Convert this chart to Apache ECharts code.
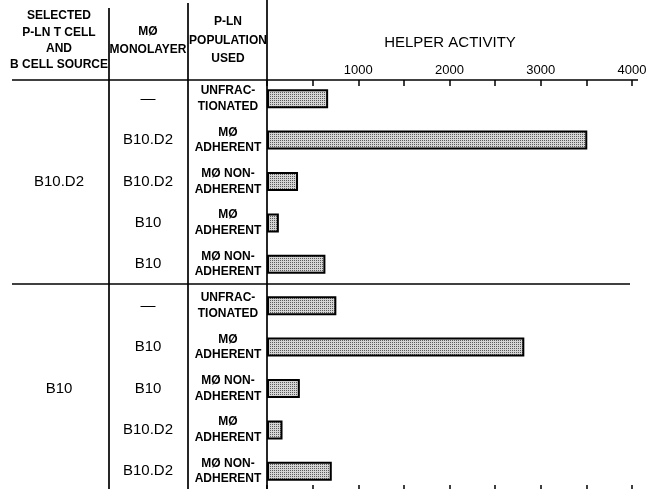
<!DOCTYPE html>
<html>
<head>
<meta charset="utf-8">
<script src="https://cdn.jsdelivr.net/npm/echarts@6/dist/echarts.min.js"></script>
<style>
html,body{margin:0;padding:0;background:#fff;}
#chart{width:646px;height:489px;}
</style>
</head>
<body>
<div id="chart"></div>
<script>
// ---- data ----
const cellSource = ['', '', 'B10.D2', '', '', '', '', 'B10', '', ''];
const monolayer = ['—', 'B10.D2', 'B10.D2', 'B10', 'B10', '—', 'B10', 'B10', 'B10.D2', 'B10.D2'];
const population = [
  'UNFRAC-\nTIONATED', 'MØ\nADHERENT', 'MØ NON-\nADHERENT', 'MØ\nADHERENT', 'MØ NON-\nADHERENT',
  'UNFRAC-\nTIONATED', 'MØ\nADHERENT', 'MØ NON-\nADHERENT', 'MØ\nADHERENT', 'MØ NON-\nADHERENT'
];
const helperActivity = [670, 3510, 340, 130, 640, 760, 2820, 360, 170, 710];
const xTicks = [1000, 2000, 3000, 4000];

const SANS = "'Liberation Sans',Arial,sans-serif";

// stipple pattern for bars
const pc = document.createElement('canvas');
pc.width = 2; pc.height = 2;
const pctx = pc.getContext('2d');
pctx.fillStyle = '#d4d4d4'; pctx.fillRect(0, 0, 2, 2);
pctx.fillStyle = '#5a5a5a'; pctx.fillRect(0, 0, 1, 1);

const chart = echarts.init(document.getElementById('chart'), null, {renderer: 'canvas'});
const idxs = population.map((_, i) => String(i));

function catAxis(labels, margin, size, weight, lh) {
  return {
    type: 'category', inverse: true, position: 'left', data: idxs,
    axisLine: {show: false}, axisTick: {show: false}, splitLine: {show: false},
    axisLabel: {
      show: true, interval: 0, margin: margin, align: 'center', verticalAlign: 'middle',
      fontFamily: SANS, fontSize: size, fontWeight: weight, lineHeight: lh, color: '#000',
      formatter: (v, i) => labels[i]
    }
  };
}

const line = (x1, y1, x2, y2) => ({
  type: 'line', shape: {x1, y1, x2, y2}, style: {stroke: '#000', lineWidth: 1.7}, z: 10
});
const hdr = (x, y, text, lh) => ({
  type: 'text', x, y, z: 10,
  style: {text, fill: '#000', font: "bold 12px " + SANS, textAlign: 'center', textVerticalAlign: 'middle', lineHeight: lh}
});

chart.setOption({
  backgroundColor: '#fff',
  animation: false,
  grid: {left: 267, width: 365, top: 78, height: 414, outerBoundsMode: 'none', containLabel: false},
  xAxis: [{
    type: 'value', position: 'top', min: 0, max: 4000, interval: 500, offset: -2,
    axisLine: {show: false}, splitLine: {show: false},
    axisTick: {show: true, inside: true, length: 6, lineStyle: {color: '#000', width: 1.5}},
    axisLabel: {
      margin: 3, color: '#000', fontSize: 13, fontFamily: SANS, hideOverlap: false,
      formatter: v => xTicks.indexOf(v) >= 0 ? String(v) : ''
    }
  }, {
    type: 'value', position: 'bottom', min: 0, max: 4000, interval: 500,
    axisLine: {show: false}, splitLine: {show: false}, axisLabel: {show: false},
    axisTick: {show: true, inside: true, length: 7, lineStyle: {color: '#000', width: 1.5}}
  }],
  yAxis: [
    catAxis(population, 39, 12, 'bold', 15.5),
    catAxis(monolayer, 119, 15, 'normal', 18),
    catAxis(cellSource, 208, 15, 'normal', 18)
  ],
  series: [{
    type: 'bar', xAxisIndex: 0, yAxisIndex: 0, data: helperActivity, barWidth: 19,
    itemStyle: {color: {image: pc, repeat: 'repeat'}, borderColor: '#000', borderWidth: 2}
  }],
  graphic: [
    line(109, 8, 109, 489), line(188, 3, 188, 489), line(267, 0, 267, 489),
    line(12, 80, 638, 80), line(12, 284, 630, 284),
    hdr(59, 40.5, 'SELECTED\nP-LN T CELL\nAND\nB CELL SOURCE', 16.3),
    hdr(148, 40.5, 'MØ\nMONOLAYER', 18),
    hdr(228, 40.5, 'P-LN\nPOPULATION\nUSED', 18.5),
    {type: 'text', x: 450, y: 43, z: 10,
     style: {text: 'HELPER ACTIVITY', fill: '#000', font: "15px " + SANS, textAlign: 'center', textVerticalAlign: 'middle'}}
  ]
});
</script>
</body>
</html>
